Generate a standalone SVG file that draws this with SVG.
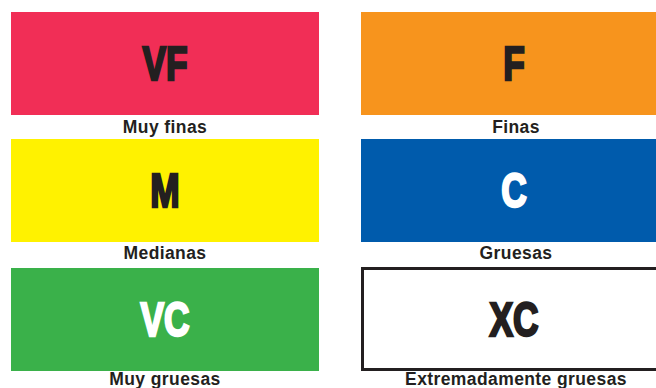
<svg xmlns="http://www.w3.org/2000/svg" width="656" height="388" viewBox="0 0 656 388">
<style>
.big{font-family:"Liberation Sans",Arial,sans-serif;font-weight:bold;font-size:49px;text-anchor:middle;stroke-width:2.6px;stroke-linejoin:miter}
.dk{fill:#231F20;stroke:#231F20}
.wt{fill:#FFFFFF;stroke:#FFFFFF}
.lbl{font-family:"Liberation Sans",Arial,sans-serif;font-weight:bold;font-size:17.5px;letter-spacing:0.4px;fill:#231F20;text-anchor:middle}
</style>
<rect width="656" height="388" fill="#FFFFFF"/>
<g id="vf">
<rect x="11" y="12" width="308" height="103" fill="#F12E56"/>
<text class="big dk" transform="translate(165,80) scale(0.72,1)">VF</text>
<text class="lbl" x="165" y="133">Muy finas</text>
</g>
<g id="f">
<rect x="361" y="12" width="308" height="103" fill="#F7941D"/>
<text class="big dk" transform="translate(514,80) scale(0.72,1)">F</text>
<text class="lbl" x="516" y="133">Finas</text>
</g>
<g id="m">
<rect x="11" y="139" width="308" height="103" fill="#FFF200"/>
<text class="big dk" transform="translate(165,207) scale(0.72,1)">M</text>
<text class="lbl" x="165" y="259">Medianas</text>
</g>
<g id="c">
<rect x="361" y="139" width="308" height="103" fill="#005BAC"/>
<text class="big wt" transform="translate(514,207) scale(0.72,1)">C</text>
<text class="lbl" x="516" y="259">Gruesas</text>
</g>
<g id="vc">
<rect x="11" y="268" width="308" height="103" fill="#3AB14A"/>
<text class="big wt" transform="translate(165,336) scale(0.72,1)">VC</text>
<text class="lbl" x="165" y="385">Muy gruesas</text>
</g>
<g id="xc">
<rect x="362.5" y="268.5" width="306" height="101" fill="#FFFFFF" stroke="#231F20" stroke-width="3"/>
<text class="big dk" transform="translate(514,336) scale(0.72,1)">XC</text>
<text class="lbl" x="516" y="385">Extremadamente gruesas</text>
</g>
</svg>
